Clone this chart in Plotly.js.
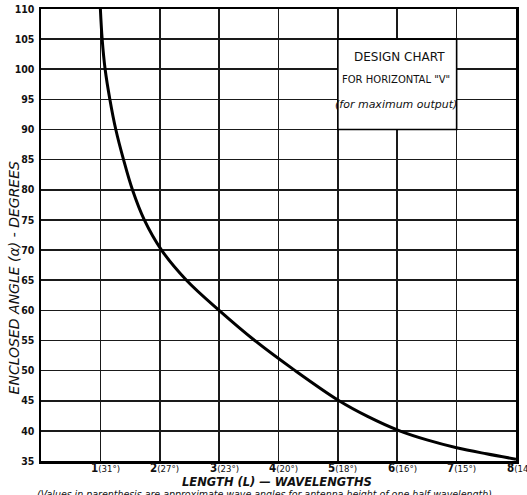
<!DOCTYPE html>
<html>
<head>
<meta charset="utf-8">
<script src="https://cdn.plot.ly/plotly-3.0.1.min.js"></script>
<style>html,body{margin:0;padding:0;background:#fff;}#chart{width:527px;height:495px;}</style>
</head>
<body>
<div id="chart"></div>
<script>
// Curve: enclosed angle vs length in wavelengths
const lengthWL = [1.0, 1.03, 1.08, 1.16, 1.26, 1.39, 1.54, 1.74, 2.03, 2.45, 3.0, 3.6, 4.28, 5.02, 5.5, 6.04, 6.5, 7.0, 7.5, 8.0];
const angleDeg = [110, 105, 100, 95, 90, 85, 80, 75, 70, 65, 60, 55, 50, 45, 42.4, 40, 38.5, 37.2, 36.2, 35.3];

// X tick labels: wavelength number and approximate angle in parenthesis
const xTickVals = [1, 2, 3, 4, 5, 6, 7, 8];
const xTickAngles = ["31°", "27°", "23°", "20°", "18°", "16°", "15°", "14°"];
const yTickVals = [35, 40, 45, 50, 55, 60, 65, 70, 75, 80, 85, 90, 95, 100, 105, 110];

const boxLines = ["DESIGN CHART", "FOR HORIZONTAL \"V\"", "(for maximum output)"];

const ink = '#111';
const tickFont = {family: 'DejaVu Sans Condensed, DejaVu Sans', size: 10.5, color: ink, weight: 'bold'};

const annotations = [];
xTickVals.forEach((v, i) => {
  annotations.push({
    x: v, y: 0, xref: 'x', yref: 'paper', xanchor: 'center', yanchor: 'middle',
    xshift: 5, yshift: -7, showarrow: false,
    text: '<b>' + v + '</b><span style="font-size:9.5px">(' + xTickAngles[i] + ')</span>',
    font: {family: 'DejaVu Sans Condensed, DejaVu Sans', size: 11.5, color: ink}
  });
});
annotations.push({
  x: 6.03, y: 102.1, xref: 'x', yref: 'y', showarrow: false,
  text: boxLines[0], font: {family: 'DejaVu Sans', size: 12, color: ink}
});
annotations.push({
  x: 5.98, y: 98.3, xref: 'x', yref: 'y', showarrow: false,
  text: boxLines[1], font: {family: 'DejaVu Sans', size: 10, color: ink}
});
annotations.push({
  x: 5.98, y: 94.2, xref: 'x', yref: 'y', showarrow: false,
  text: '<i>' + boxLines[2] + '</i>', font: {family: 'DejaVu Sans', size: 11, color: ink}
});
// axis titles
annotations.push({
  x: -0.058, y: 0.405, xref: 'paper', yref: 'paper', xanchor: 'center', yanchor: 'middle',
  showarrow: false, textangle: -90,
  text: '<i>ENCLOSED ANGLE (α) - DEGREES</i>',
  font: {family: 'DejaVu Sans', size: 14, color: ink}
});
annotations.push({
  x: 0.496, y: 0, xref: 'paper', yref: 'paper', xanchor: 'center', yanchor: 'middle', yshift: -21, showarrow: false,
  text: '<i><b>LENGTH (L) — WAVELENGTHS</b></i>',
  font: {family: 'DejaVu Sans', size: 11.5, color: ink}
});
annotations.push({
  x: 0.47, y: 0, xref: 'paper', yref: 'paper', xanchor: 'center', yanchor: 'middle', yshift: -33, showarrow: false,
  text: '<i>(Values in parenthesis are approximate wave angles for antenna height of one half-wavelength)</i>',
  font: {family: 'DejaVu Sans Condensed, DejaVu Sans', size: 10.5, color: ink}
});

const data = [{
  x: lengthWL, y: angleDeg, type: 'scatter', mode: 'lines',
  line: {color: '#000', width: 3, shape: 'spline', smoothing: 1},
  hoverinfo: 'skip'
}];

const layout = {
  width: 527, height: 495,
  margin: {l: 41, r: 11, t: 9, b: 34},
  paper_bgcolor: '#fff', plot_bgcolor: '#fff',
  showlegend: false,
  xaxis: {
    range: [0, 8], tickvals: xTickVals, showticklabels: false, ticks: '',
    showgrid: true, gridcolor: '#1a1a1a', gridwidth: 1.6,
    showline: true, linecolor: '#000', linewidth: 2.5, mirror: true, zeroline: false
  },
  yaxis: {
    range: [35, 110], tickvals: yTickVals, ticks: '', ticklabelstandoff: 2,
    tickfont: tickFont,
    showgrid: true, gridcolor: '#1a1a1a', gridwidth: 1.6,
    showline: true, linecolor: '#000', linewidth: 2.5, mirror: true, zeroline: false
  },
  shapes: [{
    type: 'rect', xref: 'x', yref: 'y', x0: 5, x1: 7, y0: 90, y1: 105,
    fillcolor: '#fff', line: {color: '#000', width: 1.6}, layer: 'above'
  }],
  annotations: annotations
};

Plotly.newPlot('chart', data, layout, {staticPlot: true, displayModeBar: false});
</script>
</body>
</html>
